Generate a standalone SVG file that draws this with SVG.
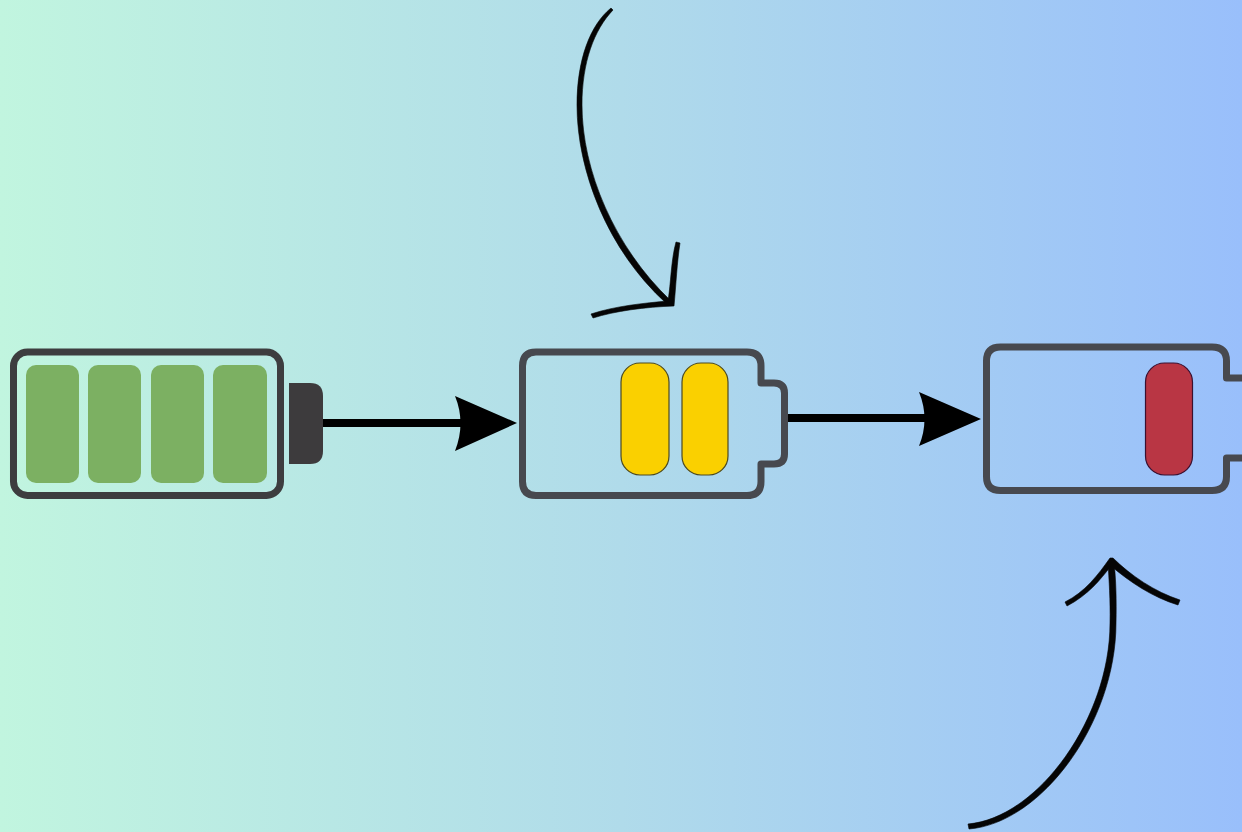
<svg xmlns="http://www.w3.org/2000/svg" width="1242" height="832" viewBox="0 0 1242 832">
<style>
.shell{fill:none;stroke:#47494f;stroke-width:7;stroke-linejoin:round}
.cell{fill:#7cb062}
.yellow{fill:#fad000;stroke:#4d4a20;stroke-width:1.200}
.red{fill:#b93644;stroke:#3a1030;stroke-width:1.200}
.shaft{fill:none;stroke:#000;stroke-width:8}
.head{fill:#000}
.sketch{fill:#050505;stroke:#050505;stroke-width:.6;stroke-linejoin:round}
</style>
<defs><linearGradient id="bg" x1="0" x2="1" y1="0" y2="0"><stop offset="0" stop-color="#c1f5df"/><stop offset="0.5" stop-color="#b0dbea"/><stop offset="1" stop-color="#99bffb"/></linearGradient></defs>
<rect id="background" width="1242" height="832" fill="url(#bg)"/>
<g id="connectors">
<path class="shaft" d="M323 423H462"/>
<path class="head" d="M517 423L455 396Q466 423 455 451Z"/>
<path class="shaft" d="M788 418H926"/>
<path class="head" d="M981 419L919 392Q930 419 919 446Z"/>
<path class="sketch" d="M611 8C590 25 577 60 577 105C577 170 607 250 667 304L671 301C614 247 582 170 582 105C582 62 594 30 613 10Z"/>
<path class="sketch" d="M591 314C615 306 645 303 668 301C671 283 671 260 676 242L680 243C677 262 676 285 674 306C645 307 615 311 593 318Z"/>
<path class="sketch" d="M968 824C1038 818 1110 718 1110 623C1110.500 600 1109 580 1108 562L1114 562C1116 580 1116.500 600 1116 623C1116 722 1042 823 969 829Z"/>
<path class="sketch" d="M1065 602C1085 592 1098 575 1110 558L1113 558C1130 575 1155 592 1180 600L1178 605C1152 597 1130 582 1111 566C1100 580 1088 595 1067 606Z"/>
</g>
<g id="battery-full">
<rect class="shell" style="stroke:#3d3d3f" x="13.500" y="352" width="267" height="143.500" rx="14"/>
<rect class="cell" x="26" y="365" width="53" height="118" rx="10"/>
<rect class="cell" x="88" y="365" width="53" height="118" rx="10"/>
<rect class="cell" x="151" y="365" width="53" height="118" rx="10"/>
<rect class="cell" x="213" y="365" width="54" height="118" rx="10"/>
<path fill="#3d3b3d" d="M289 383H310Q323 383 323 396V451Q323 464 310 464H289Z"/>
</g>
<g id="battery-half">
<path class="shell" d="M536 352H747Q761 352 761 366V383H774Q784.500 383 784.500 393V454Q784.500 464 774 464H761V481.500Q761 495.500 747 495.500H536Q522.500 495.500 522.500 481.500V366Q522.500 352 536 352Z"/>
<rect class="yellow" x="621" y="363" width="48" height="112" rx="19"/>
<rect class="yellow" x="682" y="363" width="46" height="112" rx="19"/>
</g>
<g id="battery-low">
<path class="shell" d="M1250 378H1226.500V361Q1226.500 347 1212 347H1000.500Q986.500 347 986.500 361V476.500Q986.500 490.500 1000.500 490.500H1212Q1226.500 490.500 1226.500 476.500V458H1250"/>
<rect class="red" x="1145.500" y="363" width="47" height="112" rx="19"/>
</g>
</svg>
